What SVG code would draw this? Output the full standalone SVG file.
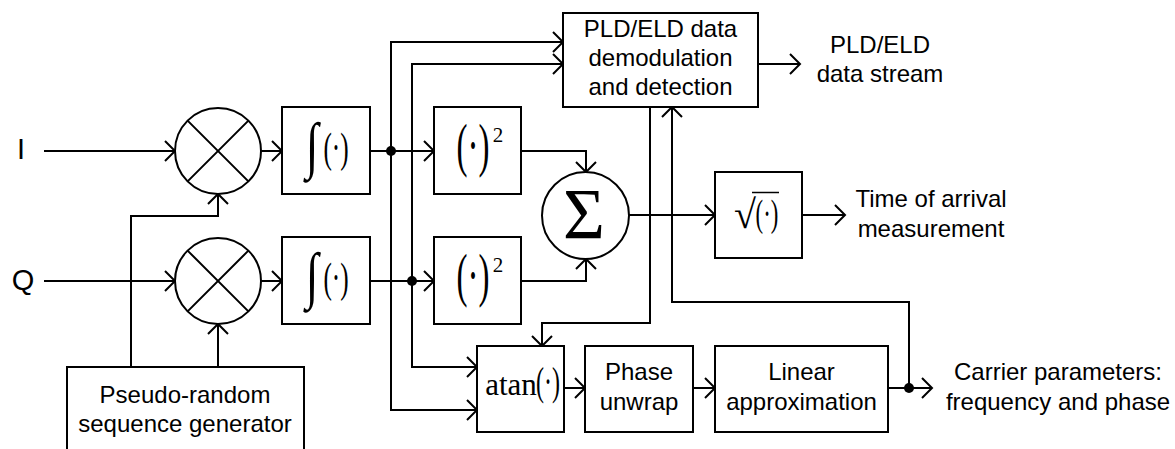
<svg xmlns="http://www.w3.org/2000/svg" width="1175" height="449" viewBox="0 0 1175 449">
<defs>
<marker id="arr" markerUnits="userSpaceOnUse" markerWidth="24" markerHeight="24" viewBox="-12 -12 24 24" refX="0" refY="0" orient="auto" overflow="visible">
<path d="M-10,-10 L0,0 L-10,10" fill="none" stroke="#000" stroke-width="2"/>
</marker>
</defs>
<style>
.box{fill:#fff;stroke:#000;stroke-width:2}
.ln{fill:none;stroke:#000;stroke-width:2}
.wire{fill:none;stroke:#000;stroke-width:2;marker-end:url(#arr)}
.t{font-family:"Liberation Sans",Arial,sans-serif;font-size:24px;fill:#000;text-anchor:middle}
.io{font-family:"Liberation Sans",Arial,sans-serif;font-size:29px;fill:#000;text-anchor:middle}
.m{font-family:"Liberation Serif","Times New Roman",serif;fill:#000;text-anchor:middle}
.dot{fill:#000}
</style>
<rect width="1175" height="449" fill="#fff"/>

<g id="connectors">
<path class="wire" d="M44,151 H175"/>
<path class="wire" d="M44,281 H175"/>
<path class="wire" d="M261,151 H282"/>
<path class="wire" d="M261,281 H282"/>
<path class="wire" d="M131,367 V216 H218 V194"/>
<path class="wire" d="M218,367 V324"/>
<path class="wire" d="M370,151 H434"/>
<path class="wire" d="M370,281 H434"/>
<path class="wire" d="M391,151 V42 H563"/>
<path class="wire" d="M391,151 V410 H477"/>
<path class="wire" d="M412,281 V64 H563"/>
<path class="wire" d="M412,281 V367 H477"/>
<path class="wire" d="M521,151 H586 V172"/>
<path class="wire" d="M521,281 H586 V259"/>
<path class="wire" d="M629,215 H715"/>
<path class="wire" d="M802,215 H845"/>
<path class="wire" d="M758,64 H800"/>
<path class="wire" d="M650,107 V323 H542 V346"/>
<path class="wire" d="M909,388 V302 H672 V107"/>
<path class="wire" d="M564,388 H585"/>
<path class="wire" d="M693,388 H715"/>
<path class="wire" d="M888,388 H932"/>
<circle class="dot" cx="391" cy="151" r="5"/>
<circle class="dot" cx="412" cy="281" r="5"/>
<circle class="dot" cx="909" cy="388" r="5"/>
</g>

<g id="in-I"><text class="io" x="21" y="159">I</text></g>
<g id="in-Q"><text class="io" x="23" y="290">Q</text></g>

<g id="mixer1">
<circle class="box" cx="218" cy="151" r="43"/>
<path class="ln" d="M187.6,120.6 L248.4,181.4 M248.4,120.6 L187.6,181.4"/>
</g>
<g id="mixer2">
<circle class="box" cx="218" cy="281" r="43"/>
<path class="ln" d="M187.6,250.6 L248.4,311.4 M248.4,250.6 L187.6,311.4"/>
</g>

<g id="prsg">
<rect class="box" x="67" y="367" width="237" height="100"/>
<text class="t" x="185" y="403">Pseudo-random</text>
<text class="t" x="185" y="432">sequence generator</text>
</g>

<g id="int1">
<rect class="box" x="282" y="107" width="88" height="87"/>
<g transform="translate(312,150) scale(0.75,1)"><text class="m" x="0" y="16" font-size="62">∫</text></g>
<g transform="translate(336,151) scale(0.6,1)"><text class="m" x="0" y="11" font-size="42">(·)</text></g>
</g>
<g id="int2">
<rect class="box" x="282" y="237" width="88" height="87"/>
<g transform="translate(312,280) scale(0.75,1)"><text class="m" x="0" y="16" font-size="62">∫</text></g>
<g transform="translate(336,281) scale(0.6,1)"><text class="m" x="0" y="11" font-size="42">(·)</text></g>
</g>

<g id="sq1">
<rect class="box" x="434" y="107" width="87" height="87"/>
<g transform="translate(473,149) scale(0.55,1)"><text class="m" x="0" y="16" font-size="60">(·)</text></g>
<text class="m" x="498" y="142" font-size="21">2</text>
</g>
<g id="sq2">
<rect class="box" x="434" y="237" width="87" height="87"/>
<g transform="translate(473,279) scale(0.55,1)"><text class="m" x="0" y="16" font-size="60">(·)</text></g>
<text class="m" x="498" y="272" font-size="21">2</text>
</g>

<g id="sum">
<circle class="box" cx="585.5" cy="215.5" r="43.5"/>
<text class="m" x="584" y="238" font-size="72">Σ</text>
</g>

<g id="sqrt">
<rect class="box" x="715" y="172" width="87" height="86"/>
<text class="m" x="745" y="228" font-size="40">√</text>
<line x1="752" y1="192.5" x2="779" y2="192.5" stroke="#000" stroke-width="1.5"/>
<g transform="translate(767,215) scale(0.6,1)"><text class="m" x="0" y="11" font-size="38">(·)</text></g>
</g>

<g id="demod">
<rect class="box" x="563" y="13" width="195" height="94"/>
<text class="t" x="660.5" y="37">PLD/ELD data</text>
<text class="t" x="660.5" y="66">demodulation</text>
<text class="t" x="660.5" y="95">and detection</text>
</g>

<g id="atan">
<rect class="box" x="477" y="346" width="87" height="86"/>
<text class="m" x="511" y="395" font-size="31">atan</text>
<g transform="translate(548,385) scale(0.6,1)"><text class="m" x="0" y="10" font-size="40">(·)</text></g>
</g>

<g id="unwrap">
<rect class="box" x="585" y="346" width="108" height="86"/>
<text class="t" x="639" y="380">Phase</text>
<text class="t" x="639" y="410">unwrap</text>
</g>

<g id="linear">
<rect class="box" x="715" y="346" width="173" height="86"/>
<text class="t" x="801.5" y="380">Linear</text>
<text class="t" x="801.5" y="410">approximation</text>
</g>

<g id="out-data">
<text class="t" x="880" y="53">PLD/ELD</text>
<text class="t" x="880" y="82">data stream</text>
</g>
<g id="out-toa">
<text class="t" x="931" y="207">Time of arrival</text>
<text class="t" x="931" y="237">measurement</text>
</g>
<g id="out-carrier">
<text class="t" x="1058" y="380">Carrier parameters:</text>
<text class="t" x="1058" y="410">frequency and phase</text>
</g>
</svg>
